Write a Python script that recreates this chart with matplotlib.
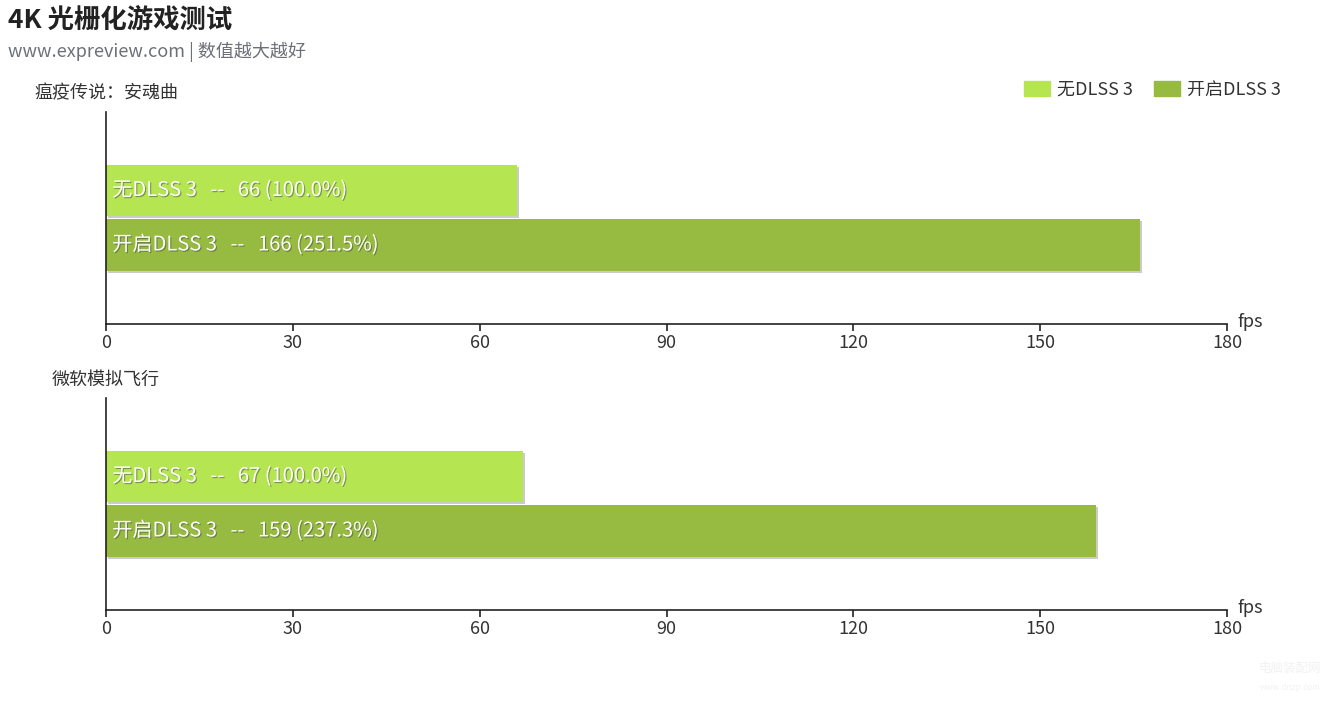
import matplotlib.pyplot as plt
import matplotlib.patheffects as pe
from matplotlib.patches import Patch

plt.rcParams['font.family'] = ['Noto Sans CJK SC', 'DejaVu Sans']

# data
games = ['瘟疫传说：安魂曲', '微软模拟飞行']
series = ['无DLSS 3', '开启DLSS 3']
no_dlss = [66, 67]
with_dlss = [166, 159]
colors = ['#b5e550', '#96bb40']
xticks = [0, 30, 60, 90, 120, 150, 180]

fig = plt.figure(figsize=(13.33, 7.05), dpi=100)

left, width = 106 / 1333, (1227 - 106) / 1333
ax_tops = [112, 398]
ax_h = 212

shadow = [pe.SimplePatchShadow(offset=(1.5, -1.5), shadow_rgbFace='#999999', alpha=0.5), pe.Normal()]

for i, game in enumerate(games):
    bottom = 1 - (ax_tops[i] + ax_h) / 705
    ax = fig.add_axes([left, bottom, width, ax_h / 705])
    vals = [no_dlss[i], with_dlss[i]]
    base = vals[0]
    ypos = [1, 0]
    bars = ax.barh(ypos, vals, height=0.94, color=colors, zorder=2)
    for b in bars:
        b.set_path_effects(shadow)
    for y, v, name in zip(ypos, vals, series):
        ax.text(1.0, y, f'{name}   --   {v} ({v / base * 100:.1f}%)', va='center', ha='left',
                color='white', fontsize=14.5, zorder=3, path_effects=[
                    pe.SimplePatchShadow(offset=(0.8, -0.8), shadow_rgbFace='#444444', alpha=0.5),
                    pe.Normal()])
    ax.set_xlim(0, 180)
    ax.set_ylim(-1.45, 2.44)
    ax.set_xticks(xticks)
    ax.set_yticks([])
    ax.tick_params(axis='x', length=5, width=1.2, colors='#222222', labelsize=13, pad=2)
    for lbl in ax.get_xticklabels():
        lbl.set_color('#333333')
    for s in ['top', 'right']:
        ax.spines[s].set_visible(False)
    ax.spines['left'].set_color('#222222')
    ax.spines['bottom'].set_color('#222222')
    ax.spines['left'].set_linewidth(1.2)
    ax.spines['bottom'].set_linewidth(1.2)
    ax.text(1.009, 0.01, 'fps', transform=ax.transAxes, fontsize=13, color='#333333',
            ha='left', va='center')
    ax.text(0, 1.045, game, transform=ax.transAxes, fontsize=13, color='#333333',
            ha='center', va='bottom')

fig.text(8 / 1333, 1 - 20 / 705, '4K 光栅化游戏测试', fontsize=19, fontweight='bold',
         color='#222222', ha='left', va='center')
fig.text(8 / 1333, 1 - 52 / 705, 'www.expreview.com | 数值越大越好', fontsize=13,
         color='#6e7079', ha='left', va='center')

handles = [Patch(facecolor=c, edgecolor=c) for c in colors]
fig.legend(handles, series, loc='center right', bbox_to_anchor=(1297 / 1333, 1 - 90 / 705),
           ncol=2, frameon=False, fontsize=13, handlelength=1.4, handleheight=0.9,
           handletextpad=0.4, columnspacing=1.2, labelcolor='#333333')

fig.text(1290 / 1333, 1 - 672 / 705, '电脑装配网', fontsize=9, color='#f2f2f2', ha='center')
fig.text(1290 / 1333, 1 - 690 / 705, 'www.dnzp.com', fontsize=6, color='#f2f2f2', ha='center')

fig.savefig('out.png', dpi=100)
plt.close(fig)
